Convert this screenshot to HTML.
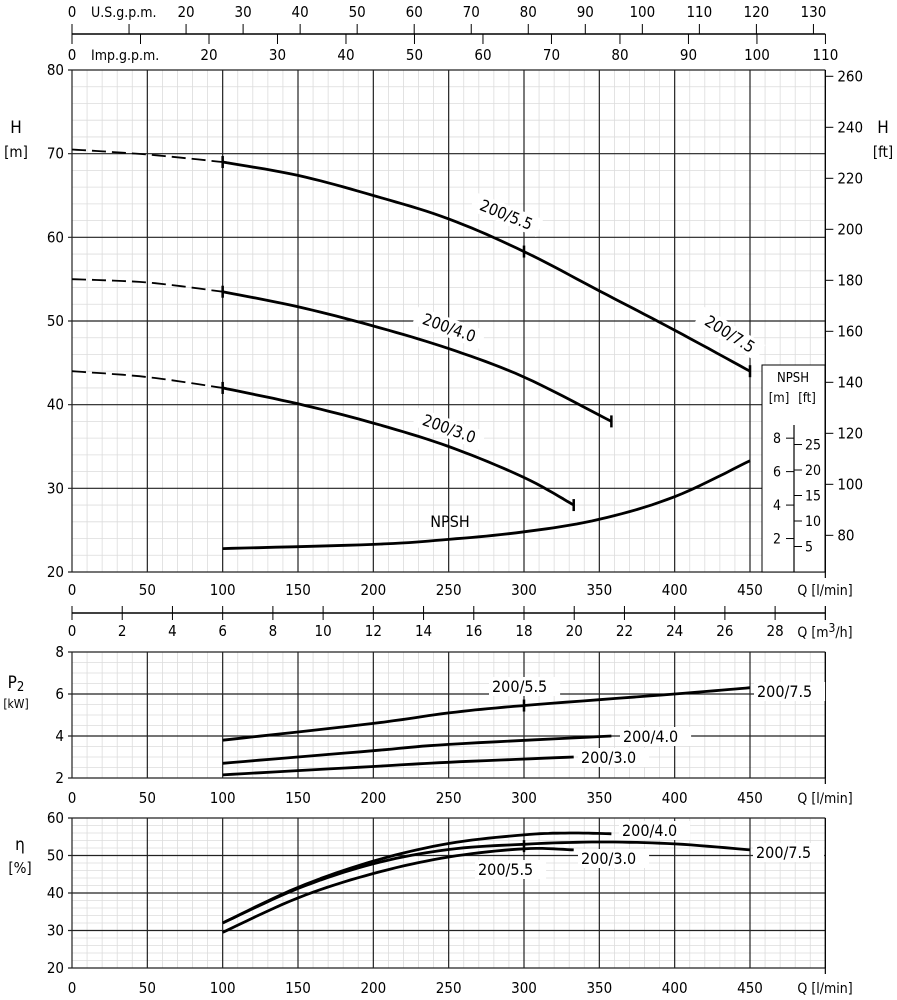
<!DOCTYPE html>
<html><head><meta charset="utf-8"><style>
html,body{margin:0;padding:0;background:#fff}
svg{display:block;font-family:"DejaVu Sans Condensed","Liberation Sans",sans-serif}
</style></head><body>
<svg id="s" width="897" height="1000" viewBox="0 0 897 1000" xmlns="http://www.w3.org/2000/svg"></svg>
<script>
var S=document.getElementById('s'),h='';
var X0=72,KX=(750-72)/450;
function X(q){return X0+q*KX}
function L(x1,y1,x2,y2,c,w,extra){h+='<line x1="'+x1+'" y1="'+y1+'" x2="'+x2+'" y2="'+y2+'" stroke="'+c+'" stroke-width="'+w+'" '+(extra||'')+'/>';}
function T(x,y,t,sz,anc,extra){h+='<text x="'+x+'" y="'+y+'" font-size="'+sz+'" text-anchor="'+(anc||'middle')+'" '+(extra||'')+'>'+t+'</text>';}
function P(pts,w,extra){var d='M'+pts.map(function(p){return p[0].toFixed(1)+','+p[1].toFixed(1)}).join(' L');h+='<path d="'+d+'" fill="none" stroke="#000" stroke-width="'+w+'" stroke-linejoin="round" '+(extra||'')+'/>';}
function smooth(pts){var out=[];for(var i=0;i<pts.length-1;i++){var p0=pts[i-1]||pts[i],p1=pts[i],p2=pts[i+1],p3=pts[i+2]||p2;for(var t=0;t<1;t+=0.1){var t2=t*t,t3=t2*t;out.push([0.5*(2*p1[0]+(-p0[0]+p2[0])*t+(2*p0[0]-5*p1[0]+4*p2[0]-p3[0])*t2+(-p0[0]+3*p1[0]-3*p2[0]+p3[0])*t3),0.5*(2*p1[1]+(-p0[1]+p2[1])*t+(2*p0[1]-5*p1[1]+4*p2[1]-p3[1])*t2+(-p0[1]+3*p1[1]-3*p2[1]+p3[1])*t3)]);}}out.push(pts[pts.length-1]);return out;}
function grid(yTop,yBot,xRight,nMinorY,nMajorY){
  for(var q=0;q<=500;q+=10){if(q%50)L(X(q),yTop,X(q),yBot,'#dcdcdc',0.8);}
  for(var i=0;i<=nMinorY;i++){var y=yTop+(yBot-yTop)*i/nMinorY;L(X0,y,xRight,y,'#dcdcdc',0.8);}
  for(var q=0;q<=500;q+=50){L(X(q),yTop,X(q),yBot,'#222',1.2);}
  for(var i=0;i<=nMajorY;i++){var y=yTop+(yBot-yTop)*i/nMajorY;L(X0-4,y,xRight,y,'#222',1.2);}
}
var XR=X(500);
var HT=70,HB=572;function HY(v){return HB-(v-20)*(HB-HT)/60}
grid(HT,HB,XR,30,6);
L(XR,HT,XR,HB+6,'#000',1.2);
for(var v=20;v<=80;v+=10)T(X0-8,HY(v)+5,v,15,'end');
T(16,133,'H',17,'middle');T(16,157,'[m]',15,'middle');
T(883,133,'H',17,'middle');T(883,157,'[ft]',15,'middle');
for(var f=80;f<=260;f+=20){var y=HY(f*0.3048);L(XR,y,XR+8,y,'#000',1);T(XR+12,y+5,f,15,'start');}
for(var q=0;q<=450;q+=50)T(X(q),595,q,15);
T(XR-28,595,'Q',14,'start');T(XR-14,595,'[l/min]',14,'start');
L(X0,613,XR,613,'#000',1.5);
for(var m=0;m<=30;m+=2){var x=X(m*16.6667);if(x>XR+1)break;L(x,606,x,620,'#000',1);if(m<=28)T(x,636,m,15);}
L(XR,606,XR,620,'#000',1);
T(XR-28,637,'Q',14,'start');T(XR-14,637,'[m<tspan dy="-5" font-size="12">3</tspan><tspan dy="5">/h]</tspan>',14,'start');
L(X0,34,XR,34,'#000',1.5);
for(var g=0;g<=130;g+=10){var x=X(g*3.7854);L(x,24,x,34,'#000',1);if(g!=10)T(x,17,g,15);}
T(X0+19,17,'U.S.g.p.m.',14,'start');
for(var g=0;g<=110;g+=10){var x=X(g*4.5461);L(x,34,x,44,'#000',1);if(g!=10)T(x,60,g,15);}
T(X0+19,60,'Imp.g.p.m.',14,'start');
h+='<rect x="762" y="365" width="63" height="207" fill="#fff" stroke="#000" stroke-width="1"/>';
T(793,382,'NPSH',13);T(779,402,'[m]',13);T(807,402,'[ft]',13);
L(794,425,794,572,'#000',1.2);
function NY(m){return HB-m*16.73}
for(var m=2;m<=8;m+=2){L(786,NY(m),794,NY(m),'#000',1);T(781,NY(m)+5,m,14,'end');}
for(var f=5;f<=25;f+=5){var y=NY(f*0.3048);L(794,y,802,y,'#000',1);T(805,y+5,f,14,'start');}
function hc(a){return a.map(function(p){return [X(p[0]),HY(p[1])]})}
P(smooth(hc([[0,70.5],[50,69.9],[100,69]])),1.8,'stroke-dasharray="14,6"');
P(smooth(hc([[100,69],[150,67.4],[200,65],[250,62.2],[300,58.3],[350,53.6],[400,48.9],[450,44]])),2.8);
P(smooth(hc([[0,55],[50,54.6],[100,53.5]])),1.8,'stroke-dasharray="14,6"');
P(smooth(hc([[100,53.5],[150,51.7],[200,49.4],[250,46.7],[300,43.3],[358,38]])),2.8);
P(smooth(hc([[0,44],[50,43.3],[100,42]])),1.8,'stroke-dasharray="14,6"');
P(smooth(hc([[100,42],[150,40.1],[200,37.8],[250,35],[300,31.3],[333,28]])),2.8);
P(smooth(hc([[100,22.8],[200,23.3],[250,23.9],[300,24.8],[350,26.3],[400,29],[450,33.3]])),2.8);
[[100,69],[300,58.3],[450,44],[100,53.5],[358,38],[100,42],[333,28]].forEach(function(p){L(X(p[0]),HY(p[1])-6,X(p[0]),HY(p[1])+6,'#000',2.5);});
function RT(x,y,a,t){h+='<g transform="translate('+x+','+y+') rotate('+a+')"><rect x="-36" y="-13" width="72" height="19" fill="#fff"/><text x="0" y="2" font-size="16" text-anchor="middle">'+t+'</text></g>';}
RT(505,218,22,'200/5.5');RT(728,337,32,'200/7.5');RT(448,331,20,'200/4.0');RT(448,432,20,'200/3.0');
T(450,527,'NPSH',16);
var PT=652,PB=778;function PY(v){return PB-(v-2)*(PB-PT)/6}
grid(PT,PB,XR,12,3);L(XR,PT,XR,PB+6,'#000',1.2);
for(var v=2;v<=8;v+=2)T(X0-8,PY(v)+5,v,15,'end');
T(16,688,'P<tspan dy="3" font-size="13">2</tspan>',17,'middle');T(16,708,'[kW]',12,'middle');
for(var q=0;q<=450;q+=50)T(X(q),803,q,15);
T(XR-28,803,'Q',14,'start');T(XR-14,803,'[l/min]',14,'start');
function pc(a){return a.map(function(p){return [X(p[0]),PY(p[1])]})}
P(smooth(pc([[100,3.8],[200,4.6],[250,5.1],[300,5.45],[400,6.0],[450,6.3]])),2.8);
P(smooth(pc([[100,2.7],[200,3.3],[250,3.6],[358,4.0]])),2.8);
P(smooth(pc([[100,2.15],[200,2.55],[250,2.75],[333,3.0]])),2.8);
L(X(300),PY(5.45)-6,X(300),PY(5.45)+6,'#000',2.5);
function BT(x,y,t){h+='<rect x="'+(x-3)+'" y="'+(y-15)+'" width="'+(t.length*9.3+6)+'" height="19" fill="#fff"/>';T(x,y,t,16,'start');}
BT(492,692,'200/5.5');BT(757,697,'200/7.5');BT(623,742,'200/4.0');BT(581,763,'200/3.0');
var ET=818,EB=968;function EY(v){return EB-(v-20)*(EB-ET)/40}
grid(ET,EB,XR,20,4);L(XR,ET,XR,EB+6,'#000',1.2);
for(var v=20;v<=60;v+=10)T(X0-8,EY(v)+5,v,15,'end');
T(20,850,'η',17,'middle');T(20,873,'[%]',15,'middle');
for(var q=0;q<=450;q+=50)T(X(q),993,q,15);
T(XR-28,993,'Q',14,'start');T(XR-14,993,'[l/min]',14,'start');
function ec(a){return a.map(function(p){return [X(p[0]),EY(p[1])]})}
P(smooth(ec([[100,32],[150,41.5],[200,48.5],[250,53.2],[300,55.5],[330,56],[358,55.8]])),2.8);
P(smooth(ec([[100,32],[150,41.2],[200,47.8],[250,51.6],[300,53],[350,53.6],[400,53.1],[450,51.5]])),2.8);
P(smooth(ec([[100,29.5],[150,38.7],[200,45.2],[250,49.6],[300,51.8],[333,51.5]])),2.8);
L(X(300),EY(52.5)-6,X(300),EY(52.5)+6,'#000',2.5);
BT(622,836,'200/4.0');BT(756,858,'200/7.5');BT(581,864,'200/3.0');BT(478,875,'200/5.5');
S.innerHTML=h;
</script>
</body></html>
